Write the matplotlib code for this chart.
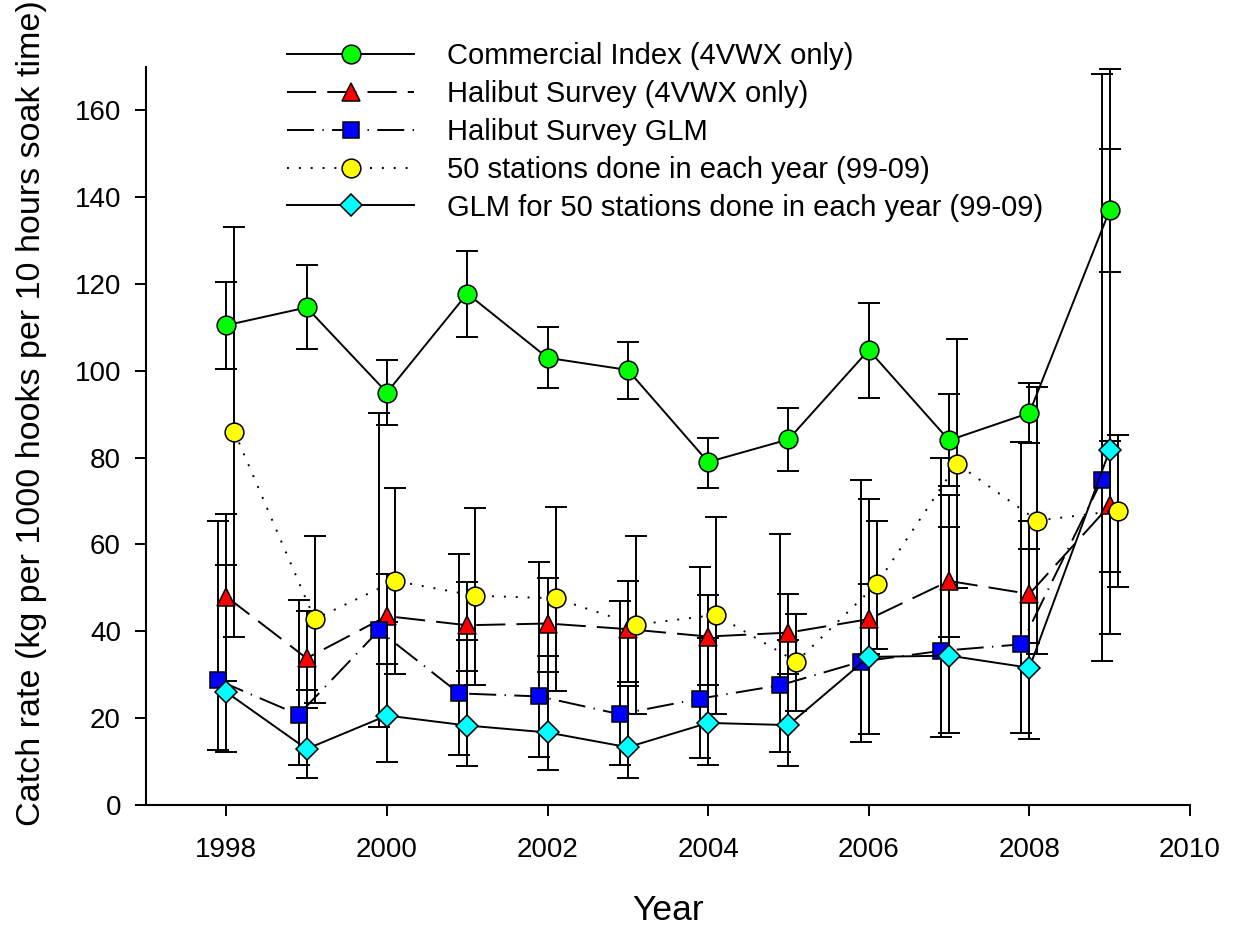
import matplotlib
matplotlib.use("Agg")
import matplotlib.pyplot as plt
import numpy as np

plt.rcParams['font.family'] = ['Liberation Sans', 'DejaVu Sans']

years = np.arange(1998, 2010)

# commercial index (4VWX only): mean with lower / upper error limits
commercialMean = [110.5, 114.6, 95.0, 117.8, 103.0, 100.2, 79.0, 84.2, 104.8, 84.0, 90.3, 137.0]
commercialLow  = [100.4, 105.0, 87.6, 107.8, 96.0, 93.4, 73.0, 76.9, 93.8, 73.4, 83.4, 122.7]
commercialHigh = [120.5, 124.3, 102.4, 127.7, 110.0, 106.7, 84.6, 91.5, 115.6, 94.6, 97.3, 151.2]

# halibut survey (4VWX only)
surveyMean = [48.0, 33.8, 43.5, 41.4, 41.8, 40.5, 38.8, 39.7, 42.8, 51.6, 48.6, 69.0]
surveyLow  = [28.5, 22.3, 32.4, 30.8, 30.6, 28.3, 27.7, 30.1, 34.7, 38.7, 37.2, 53.7]
surveyHigh = [67.1, 44.6, 53.3, 51.3, 52.3, 51.7, 48.4, 48.6, 50.9, 64.0, 59.0, 83.9]

# halibut survey GLM
glmMean = [28.7, 20.8, 40.2, 25.7, 25.0, 20.9, 24.5, 27.6, 33.0, 35.5, 37.0, 74.8]
glmLow  = [12.6, 9.2, 17.9, 11.4, 11.0, 9.2, 10.8, 12.2, 14.5, 15.6, 16.5, 33.1]
glmHigh = [65.4, 47.1, 90.2, 57.9, 56.0, 46.9, 54.9, 62.4, 74.8, 79.9, 83.5, 168.4]

# 50 stations done in each year
fixedMean = [86.0, 42.8, 51.6, 48.2, 47.6, 41.5, 43.8, 33.0, 50.9, 78.6, 65.5, 67.8]
fixedLow  = [38.8, 23.4, 30.1, 27.6, 26.2, 21.0, 21.0, 21.6, 36.0, 49.9, 34.8, 50.3]
fixedHigh = [133.1, 62.0, 73.1, 68.5, 68.7, 62.0, 66.4, 44.1, 65.4, 107.3, 96.2, 85.2]

# GLM for the 50 fixed stations
fixedGlmMean = [26.0, 12.9, 20.6, 18.3, 16.7, 13.3, 18.9, 18.4, 34.1, 34.4, 31.6, 81.7]
fixedGlmLow  = [12.3, 6.2, 9.9, 8.9, 8.1, 6.3, 9.1, 8.9, 16.4, 16.6, 15.2, 39.3]
fixedGlmHigh = [55.3, 26.4, 42.2, 38.0, 34.3, 27.4, 38.5, 37.9, 70.4, 71.4, 65.5, 169.6]

# x offset, marker, size, fill, line style, label
series = [
    (0.0, commercialMean, commercialLow, commercialHigh, 'o', 13.5, '#00ff00', '-',
     "Commercial Index (4VWX only)"),
    (0.0, surveyMean, surveyLow, surveyHigh, '^', 13.5, '#ff0000', (0, (15, 5.7)),
     "Halibut Survey (4VWX only)"),
    (-0.1, glmMean, glmLow, glmHigh, 's', 11.5, '#0000ff', (0, (13.9, 4.3, 0.7, 4.3)),
     "Halibut Survey GLM"),
    (0.1, fixedMean, fixedLow, fixedHigh, 'o', 13.5, '#ffff00', (0, (1, 5.1)),
     "50 stations done in each year (99-09)"),
    (0.0, fixedGlmMean, fixedGlmLow, fixedGlmHigh, 'D', 10.8, '#00ffff', '-',
     "GLM for 50 stations done in each year (99-09)"),
]

fig = plt.figure(figsize=(12.37, 9.26), dpi=100)
ax = fig.add_axes([0.118, 0.1307, 0.844, 0.797])

for offset, mean, low, high, marker, size, fill, style, label in series:
    x = years + offset
    mean = np.array(mean)
    err = [mean - np.array(low), np.array(high) - mean]
    ax.errorbar(x, mean, yerr=err, fmt='none', ecolor='black', elinewidth=1.4,
                capsize=7.8, capthick=1.4, zorder=2)
    ax.plot(x, mean, linestyle=style, color='black', linewidth=1.4, marker=marker,
            markersize=size, markerfacecolor=fill, markeredgecolor='black',
            markeredgewidth=1.1, label=label, zorder=3)

ax.set_xlim(1997, 2010)
ax.set_ylim(0, 170)
ax.set_xticks(range(1998, 2011, 2))
ax.set_yticks(range(0, 161, 20))
ax.spines['top'].set_visible(False)
ax.spines['right'].set_visible(False)
for side in ['left', 'bottom']:
    ax.spines[side].set_linewidth(1.5)
ax.tick_params(direction='out', length=8, width=1.4, labelsize=20)
ax.tick_params(axis='x', pad=15)
ax.tick_params(axis='y', pad=10)

ax.set_xlabel("Year", fontsize=25.5)
ax.set_ylabel("Catch rate (kg per 1000 hooks per 10 hours soak time)", fontsize=24.5)
ax.xaxis.set_label_coords(0.5, -0.12)
ax.yaxis.set_label_coords(-0.095, 0.531)

ax.legend(loc='upper left', bbox_to_anchor=(287 / 1237, 1 - 42 / 926),
          bbox_transform=fig.transFigure, frameon=False, fontsize=21,
          handlelength=4.36, handletextpad=1.13, labelspacing=0.34,
          borderpad=0, borderaxespad=0, numpoints=1)

fig.savefig("out.png", dpi=100)
